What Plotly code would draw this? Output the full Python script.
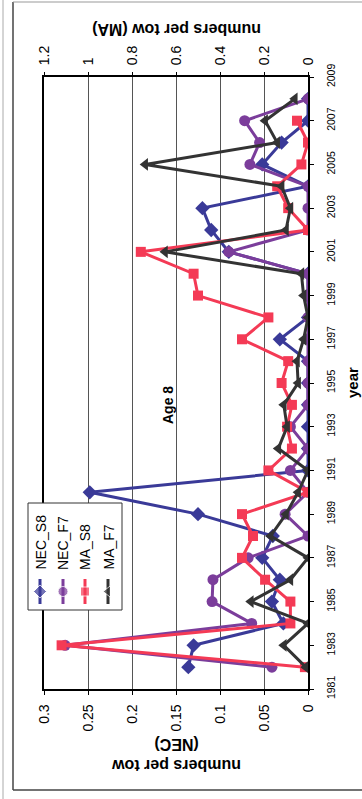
import plotly.graph_objects as go

# Survey years and indices (numbers per tow)
years = list(range(1982, 2009))

nec_s8 = [0.136, 0.130, 0.028, 0.041, 0.032, 0.052, 0.040, 0.125, 0.248, 0.0,
          0.0, 0.0, 0.0, 0.0, 0.0, 0.032, 0.0, 0.0, 0.0, 0.090,
          0.110, 0.120, 0.0, 0.052, 0.030, 0.0, 0.0]
nec_f7 = [0.041, 0.276, 0.064, 0.109, 0.108, 0.068, 0.0, 0.026, 0.0, 0.020,
          0.0, 0.020, 0.0, 0.0, 0.0, 0.0, 0.0, 0.0, 0.0, 0.090,
          0.0, 0.0, 0.0, 0.066, 0.055, 0.072, 0.0]
ma_s8 = [0.014, 1.120, 0.080, 0.080, 0.195, 0.300, 0.250, 0.300, 0.0, 0.180,
         0.073, 0.095, 0.073, 0.120, 0.090, 0.300, 0.180, 0.500, 0.520, 0.760,
         0.0, 0.090, 0.140, 0.030, 0.0, 0.050, None]
ma_f7 = [0.010, 0.110, 0.0, 0.260, 0.080, 0.0, 0.170, 0.100, 0.045, 0.0,
         0.135, 0.095, 0.110, 0.045, 0.050, 0.020, 0.0, 0.020, 0.030, 0.650,
         0.100, 0.080, 0.120, 0.740, 0.140, 0.195, 0.060]

nec_ticks = [0, 0.05, 0.1, 0.15, 0.2, 0.25, 0.3]
nec_tick_text = ["0", "0.05", "0.1", "0.15", "0.2", "0.25", "0.3"]
ma_ticks = [0, 0.2, 0.4, 0.6, 0.8, 1.0, 1.2]
ma_tick_text = ["0", "0.2", "0.4", "0.6", "0.8", "1", "1.2"]
year_ticks = list(range(1981, 2010, 2))

series = [
    ("NEC_S8", nec_s8, "x", "#3a3a98", "diamond", 11),
    ("NEC_F7", nec_f7, "x", "#7b3d9b", "circle", 11),
    ("MA_S8", ma_s8, "x2", "#f43a55", "square", 10),
    ("MA_F7", ma_f7, "x2", "#333333", "triangle-left", 11),
]

W, H = 362, 799
FONT = "Liberation Sans, Arial, sans-serif"


def px(x):
    return x / W


def py(y):
    return 1 - y / H


# plot area in page pixels
PL, PR, PT, PB = 44, 308, 77, 689

fig = go.Figure()

for name, vals, xax, color, sym, size in series:
    fig.add_trace(go.Scatter(
        x=vals, y=years, xaxis=xax, yaxis="y", name=name,
        mode="lines+markers",
        line=dict(color=color, width=3),
        marker=dict(symbol=sym, size=size, color=color),
        showlegend=False,
    ))

# Legend: drawn on a pixel-scaled overlay covering the whole page,
# entries stand on their side like the rest of the chart
fig.add_shape(type="rect", xref="x3", yref="y3", x0=28, x1=122, y0=503,
              y1=610, line=dict(color="#333", width=1), fillcolor="white",
              layer="below")
leg_x = [40, 63, 85, 108]
for (name, vals, xax, color, sym, size), lx in zip(series, leg_x):
    fig.add_trace(go.Scatter(
        x=[lx, lx, lx], y=[579, 591.5, 604], xaxis="x3", yaxis="y3",
        mode="lines+markers", line=dict(color=color, width=3),
        marker=dict(symbol=sym, size=[0, size - 1, 0], color=color),
        showlegend=False, hoverinfo="skip",
    ))
    fig.add_annotation(x=lx, y=572, xref="x3", yref="y3",
                       text=name, textangle=-90, showarrow=False,
                       yanchor="bottom", xanchor="center",
                       font=dict(family=FONT, size=14, color="#000"))

axis_font = dict(family=FONT, size=14, color="#000")
fig.update_layout(
    width=W, height=H, autosize=False,
    margin=dict(l=0, r=0, t=0, b=0, pad=0, autoexpand=False),
    paper_bgcolor="white", plot_bgcolor="rgba(0,0,0,0)",
    xaxis=dict(domain=[px(PL), px(PR)], range=[0.3, 0], tickvals=nec_ticks,
               ticktext=nec_tick_text, tickangle=-90, tickfont=axis_font,
               showgrid=True, gridcolor="#555", gridwidth=1, zeroline=False,
               showline=True, linecolor="#000", linewidth=1.5, mirror=True,
               ticks="outside", ticklen=4, tickcolor="#000",
               ticklabelstandoff=4, automargin=False),
    xaxis2=dict(domain=[px(PL), px(PR)], range=[1.2, 0], overlaying="x",
                side="top", anchor="y", tickvals=ma_ticks,
                ticktext=ma_tick_text, tickangle=-90, tickfont=axis_font,
                showgrid=False, zeroline=False, ticks="outside", ticklen=4,
                tickcolor="#000", ticklabelstandoff=4, automargin=False),
    yaxis=dict(domain=[py(PB), py(PT)], range=[1981, 2009], side="right",
               tickvals=year_ticks, tickangle=-90,
               tickfont=dict(family=FONT, size=10.5, color="#000"),
               showgrid=False, zeroline=False, showline=True,
               linecolor="#000", linewidth=1.5, mirror=True,
               ticks="outside", ticklen=4, tickcolor="#000",
               ticklabelstandoff=9, automargin=False),
    xaxis3=dict(range=[0, W], domain=[0, 1], anchor="y3", visible=False,
                fixedrange=True, automargin=False),
    yaxis3=dict(range=[H, 0], domain=[0, 1], anchor="x3", visible=False,
                fixedrange=True, automargin=False),
)

# Titles, placed in page pixels on the overlay axes
title_font = dict(family=FONT, size=16, color="#000")
fig.add_annotation(x=177, y=30, xref="x3", yref="y3",
                   text="<b>numbers per tow (MA)</b>", textangle=180,
                   showarrow=False, font=title_font)
fig.add_annotation(x=177, y=755, xref="x3", yref="y3",
                   text="<b>numbers per tow<br>(NEC)</b>", textangle=180,
                   showarrow=False, font=title_font)
fig.add_annotation(x=352, y=383, xref="x3", yref="y3",
                   text="<b>year</b>", textangle=-90, showarrow=False,
                   font=dict(family=FONT, size=15, color="#000"))
fig.add_annotation(x=168, y=405, xref="x3", yref="y3",
                   text="<b>Age 8</b>", textangle=-90, showarrow=False,
                   font=dict(family=FONT, size=14, color="#000"))

# Page frame lines
frame = [
    (13, 13, 2, 790, "#444", 1.5),
    (3, 3, 0, 799, "#aaa", 1),
    (13, 362, 790, 790, "#444", 1.5),
    (13, 362, 2, 2, "#999", 1),
]
for x0, x1, y0, y1, c, w in frame:
    fig.add_shape(type="line", xref="x3", yref="y3", x0=x0, x1=x1, y0=y0,
                  y1=y1, line=dict(color=c, width=w))

fig.write_html("out.html")
